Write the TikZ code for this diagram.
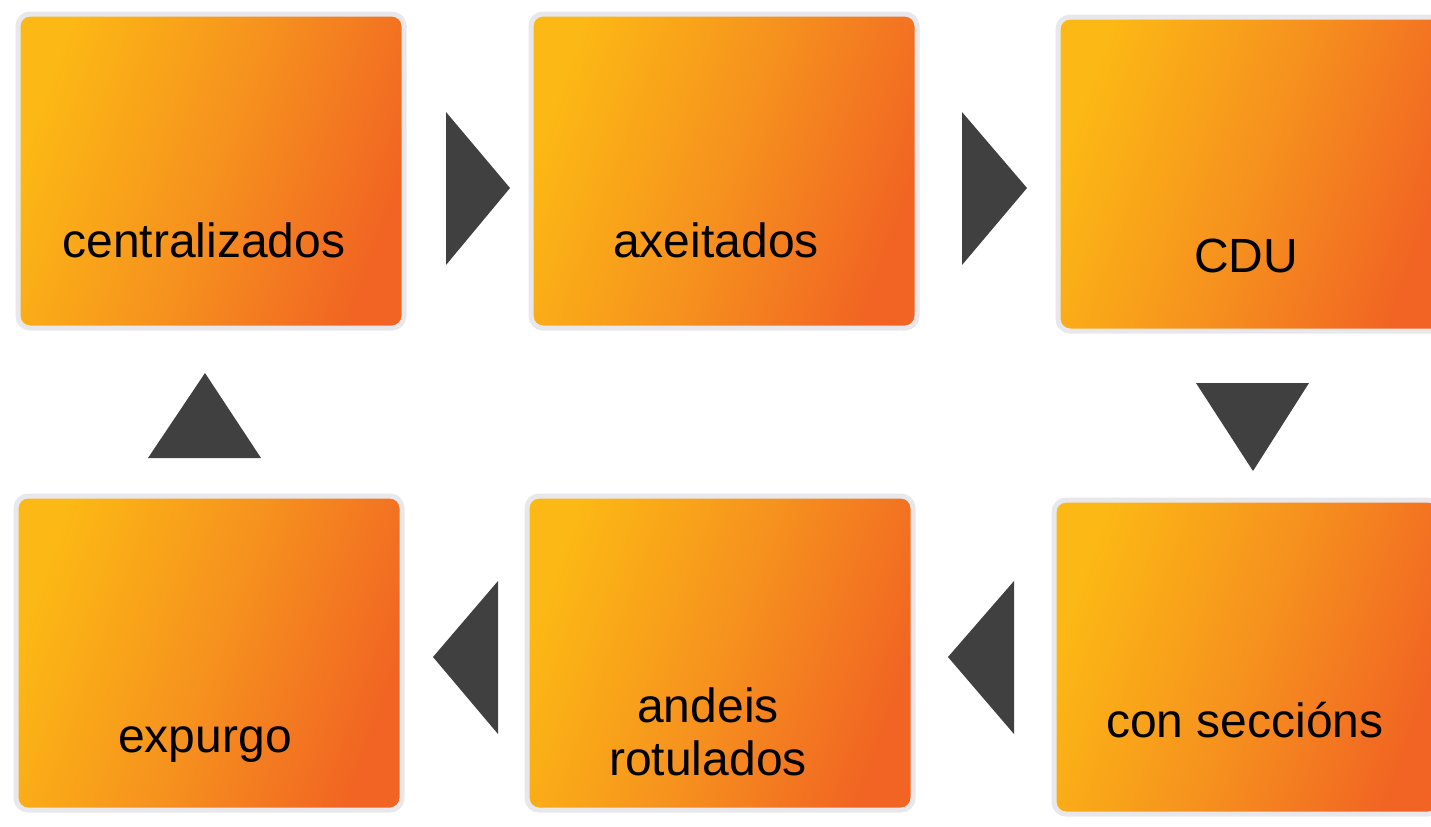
\documentclass[tikz,border=0pt]{standalone}
\usepackage{fontspec}
\setmainfont{Liberation Sans}
\usetikzlibrary{calc}
\definecolor{oy}{RGB}{252,184,20}
\definecolor{om}{RGB}{246,146,30}
\definecolor{orr}{RGB}{241,100,35}
\definecolor{tri}{RGB}{64,64,64}
\definecolor{halo}{RGB}{232,232,236}
\tikzset{
  box/.style={minimum width=193pt, minimum height=157pt, rounded corners=6pt,
    left color=oy, right color=orr, middle color=om, shading angle=70,
    draw=halo, line width=2.5pt, inner sep=0pt},
  lbl/.style={anchor=base, font=\fontsize{24}{26.5}\selectfont, text=black, align=center, inner sep=0pt},
  arrowtri/.style={fill=tri}
}
\begin{document}
\begin{tikzpicture}[x=0.5pt,y=-0.5pt]
\useasboundingbox (0,0) rectangle (1431,826);
\fill[white] (0,0) rectangle (1431,826);
% boxes
\node[box] (b1) at (211,171) {};
\node[box] (b2) at (724,171) {};
\node[box] (b3) at (1251,174) {};
\node[box] (b4) at (1247,657) {};
\node[box] (b5) at (720,653) {};
\node[box] (b6) at (209,653) {};
% labels
\node[lbl] (t1) at (204,257) {centralizados};
\node[lbl] (t2) at (716,257) {axeitados};
\node[lbl] (t3) at (1246,272) {CDU};
\node[lbl] (t4) at (1245,737) {con seccións};
\node[lbl] (t5a) at (708,722) {andeis};
\node[lbl] (t5b) at (708,775) {rotulados};
\node[lbl] (t6) at (205,752) {expurgo};
% triangles
\fill[arrowtri] (446,112) -- (446,265) -- (510,188) -- cycle;
\fill[arrowtri] (962,112) -- (962,265) -- (1027,188) -- cycle;
\fill[arrowtri] (1196,383) -- (1309,383) -- (1253,471) -- cycle;
\fill[arrowtri] (1014,581) -- (1014,734) -- (948,657) -- cycle;
\fill[arrowtri] (498,581) -- (498,734) -- (433,657) -- cycle;
\fill[arrowtri] (148,458) -- (261,458) -- (205,373) -- cycle;
\end{tikzpicture}
\end{document}
